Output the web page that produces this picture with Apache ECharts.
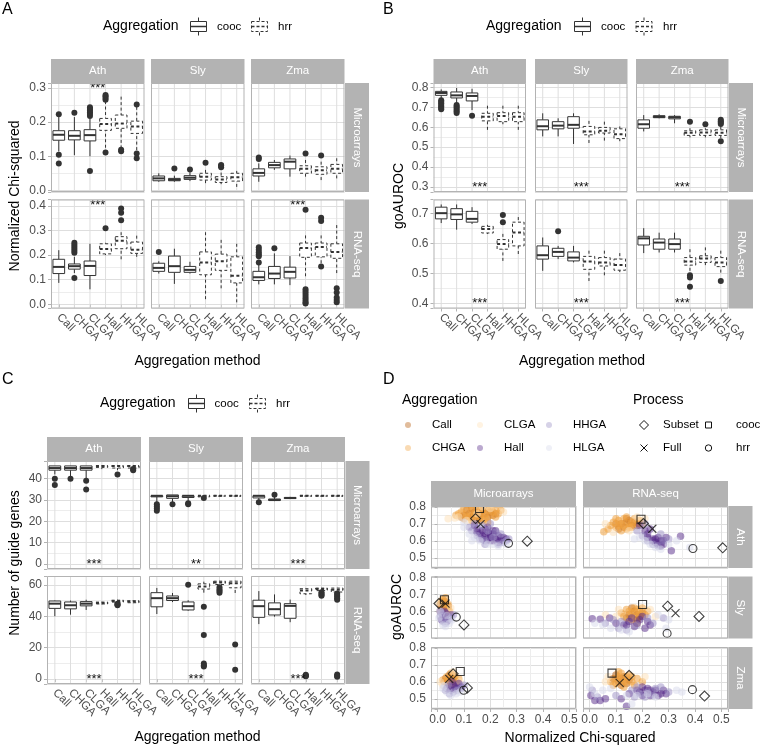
<!DOCTYPE html>
<html><head><meta charset="utf-8">
<script src="https://cdn.jsdelivr.net/npm/echarts@6/dist/echarts.min.js"></script>
<style>html,body{margin:0;padding:0;background:#fff}#c{width:760px;height:745px}</style>
</head><body><div id="c"></div><script>
// ---------------- DATA ----------------
const categories = ['Call','CHGA','CLGA','Hall','HHGA','HLGA'];
const species = ['Ath','Sly','Zma'];
const platforms = ['Microarrays','RNA-seq'];

// boxes: [lowerWhisker, q1, median, q3, upperWhisker] per category; outliers: [categoryIndex, value]
const chiMicroBoxes = [
  [[0.114,0.147,0.163,0.175,0.215],[0.103,0.148,0.160,0.175,0.215],[0.100,0.145,0.162,0.178,0.210],[0.125,0.176,0.195,0.211,0.262],[0.123,0.182,0.196,0.221,0.275],[0.118,0.167,0.187,0.203,0.245]],
  [[0.025,0.028,0.035,0.042,0.050],[0.025,0.028,0.031,0.035,0.043],[0.027,0.032,0.037,0.043,0.053],[0.021,0.030,0.040,0.050,0.060],[0.018,0.023,0.032,0.040,0.052],[0.010,0.027,0.038,0.050,0.057]],
  [[0.025,0.042,0.051,0.063,0.079],[0.060,0.066,0.074,0.082,0.089],[0.040,0.063,0.084,0.092,0.102],[0.040,0.050,0.063,0.072,0.089],[0.030,0.047,0.059,0.069,0.084],[0.035,0.050,0.063,0.076,0.094]]
];
const chiMicroOut = [
  [[0,0.223],[0,0.104],[0,0.079],[1,0.228],[2,0.218],[2,0.224],[2,0.229],[2,0.234],[2,0.239],[2,0.244],[2,0.057],[3,0.266],[3,0.271],[3,0.276],[3,0.280],[3,0.111],[4,0.115],[4,0.119],[5,0.252],[5,0.108],[5,0.094]],
  [[1,0.064],[2,0.061],[3,0.081],[4,0.068],[4,0.072],[4,0.074]],
  [[0,0.092],[0,0.096],[3,0.108],[4,0.102]]
];
const chiRnaBoxes = [
  [[0.087,0.125,0.152,0.183,0.220],[0.127,0.143,0.155,0.164,0.193],[0.061,0.117,0.156,0.176,0.246],[0.200,0.205,0.225,0.246,0.250],[0.183,0.226,0.258,0.275,0.293],[0.193,0.207,0.222,0.253,0.279]],
  [[0.125,0.134,0.148,0.167,0.175],[0.083,0.130,0.155,0.196,0.226],[0.125,0.130,0.140,0.154,0.173],[0.021,0.120,0.170,0.213,0.293],[0.065,0.138,0.175,0.204,0.262],[0.008,0.087,0.116,0.193,0.246]],
  [[0.081,0.097,0.110,0.134,0.160],[0.081,0.105,0.125,0.154,0.207],[0.078,0.107,0.132,0.151,0.196],[0.114,0.191,0.229,0.249,0.280],[0.167,0.193,0.233,0.249,0.280],[0.127,0.187,0.213,0.246,0.322]]
];
const chiRnaOut = [
  [[1,0.107],[1,0.210],[1,0.218],[1,0.226],[1,0.234],[1,0.242],[1,0.250],[3,0.309],[4,0.342],[4,0.372],[4,0.389]],
  [[0,0.213]],
  [[0,0.170],[0,0.195],[0,0.203],[0,0.212],[0,0.222],[0,0.232],[1,0.228],[3,0.384],[3,0.061],[3,0.052],[3,0.043],[3,0.034],[3,0.025],[3,0.016],[3,0.007],[3,0.003],[4,0.352],[4,0.339],[4,0.154],[5,0.065],[5,0.048],[5,0.028],[5,0.018],[5,0.008]]
];
const chiMicroStars = ['***','',''];
const chiRnaStars = ['***','','***'];

const aurocMicroBoxes = [
  [[0.741,0.760,0.772,0.780,0.790],[0.720,0.747,0.760,0.777,0.797],[0.686,0.732,0.757,0.772,0.793],[0.587,0.632,0.653,0.670,0.708],[0.615,0.628,0.656,0.673,0.708],[0.587,0.628,0.653,0.673,0.708]],
  [[0.554,0.587,0.605,0.637,0.670],[0.554,0.592,0.608,0.628,0.645],[0.516,0.595,0.612,0.653,0.670],[0.521,0.562,0.578,0.604,0.632],[0.533,0.571,0.583,0.599,0.628],[0.530,0.543,0.565,0.592,0.604]],
  [[0.579,0.595,0.615,0.637,0.661],[0.645,0.648,0.652,0.658,0.665],[0.620,0.642,0.650,0.655,0.661],[0.549,0.559,0.572,0.582,0.595],[0.549,0.559,0.574,0.587,0.595],[0.546,0.559,0.572,0.587,0.604]]
];
const aurocMicroOut = [
  [[0,0.735],[0,0.728],[0,0.720],[0,0.712],[0,0.704],[0,0.697],[0,0.690],[1,0.712],[1,0.704],[1,0.696],[1,0.688],[1,0.680],[1,0.672],[2,0.658]],
  [],
  [[3,0.628],[4,0.615],[5,0.637],[5,0.630],[5,0.623],[5,0.616],[5,0.530]]
];
const aurocRnaBoxes = [
  [[0.668,0.682,0.701,0.721,0.730],[0.646,0.680,0.697,0.716,0.730],[0.665,0.671,0.682,0.707,0.721],[0.632,0.635,0.648,0.657,0.662],[0.542,0.581,0.598,0.613,0.632],[0.565,0.592,0.637,0.671,0.688]],
  [[0.509,0.548,0.561,0.592,0.620],[0.548,0.557,0.572,0.584,0.592],[0.537,0.542,0.553,0.572,0.592],[0.475,0.514,0.540,0.557,0.576],[0.494,0.525,0.537,0.553,0.576],[0.505,0.511,0.528,0.548,0.568]],
  [[0.568,0.595,0.617,0.624,0.651],[0.570,0.581,0.603,0.615,0.636],[0.570,0.581,0.598,0.615,0.636],[0.509,0.528,0.540,0.553,0.581],[0.528,0.537,0.550,0.559,0.587],[0.503,0.523,0.537,0.553,0.576]]
];
const aurocRnaOut = [
  [[4,0.695],[4,0.671]],
  [[1,0.641]],
  [[3,0.494],[3,0.487],[3,0.456],[5,0.475]]
];
const aurocMicroStars = ['***','***','***'];
const aurocRnaStars = ['***','***','***'];

const guideMicroBoxes = [
  [[42,44,45,46,46],[41,44,45,46,46],[40,44,45,46,46],[44.5,45.3,46,46,46],[44,45,46,46,46],[44.5,45,46,46,46]],
  [[28,31.5,32,32,32],[28.8,30.8,31.8,32.4,32.4],[28.8,31.2,32,32,32],[30.8,31.5,32,32,32],[32,32,32,32,32],[32,32,32,32,32]],
  [[29.5,31,32,32,32],[29.5,29.8,30,30.5,32],[30.5,30.7,31,31.2,31.5],[32,32,32,32,32],[32,32,32,32,32],[32,32,32,32,32]]
];
const guideMicroOut = [
  [[0,40],[0,37],[1,40],[2,39],[2,35],[4,42],[5,44],[5,44.5]],
  [[0,28],[0,27],[0,26],[0,25],[1,28],[2,28.5],[2,28],[3,31]],
  [[0,29],[1,32.5]]
];
const guideRnaBoxes = [
  [[40,45,48,49.7,50],[41,44.7,47,49.1,50],[44,46.6,48,49.3,50.5],[47.5,47.8,48.5,49,49.2],[48.5,49,49.7,50.2,50.5],[48.3,48.6,49.3,49.8,50.2]],
  [[41.4,46,51.5,55,58],[49,50,51.5,52.9,54.8],[43.5,44,46.4,49.1,50.2],[55,57.3,58.9,60.6,62],[58,60.2,61.5,62.3,62.5],[54.8,58.1,61,62.3,62.5]],
  [[35,39.3,46.4,50.2,56],[39.7,40.8,44.5,48.5,53.9],[36.2,38.7,46.6,48,50.6],[53.5,54.3,56.4,57.5,58],[56,56.3,57.3,57.9,58],[54.5,55.4,56.8,57.9,58]]
];
const guideRnaOut = [
  [[4,48],[4,47.5],[4,47]],
  [[2,60],[3,46],[3,28],[3,10],[3,8.8],[3,8],[4,58.5],[4,57],[4,56],[4,55],[5,22],[5,6]],
  [[3,2.8],[3,2.2],[3,1.8],[4,55.3],[4,54.5],[4,53.5],[4,53],[5,54.5],[5,53.5],[5,52.5],[5,51.5],[5,50.5],[5,3],[5,2],[5,1.5]]
];
const guideMicroStars = ['***','**','***'];
const guideRnaStars = ['***','***','***'];

// Panel D: facets in order Ath-Micro, Ath-RNA, Sly-Micro, Sly-RNA, Zma-Micro, Zma-RNA ; points [chi, auroc]
const dCall = [
  [[0.12,0.76],[0.14,0.77],[0.16,0.75],[0.18,0.76],[0.13,0.74],[0.10,0.75],[0.17,0.78],[0.2,0.77],[0.15,0.72],[0.11,0.78],[0.19,0.74],[0.22,0.76],[0.13,0.79],[0.21,0.75],[0.09,0.74],[0.16,0.73]],
  [[0.12,0.70],[0.14,0.71],[0.16,0.69],[0.13,0.68],[0.15,0.72],[0.10,0.70],[0.17,0.71],[0.18,0.69],[0.11,0.67],[0.14,0.73]],
  [[0.01,0.64],[0.02,0.65],[0.03,0.63],[0.015,0.62],[0.025,0.66],[0.035,0.61],[0.04,0.63]],
  [[0.15,0.58],[0.17,0.6],[0.19,0.57],[0.14,0.56],[0.18,0.55],[0.16,0.62],[0.2,0.59],[0.18,0.58]],
  [[0.03,0.62],[0.04,0.6],[0.05,0.63],[0.06,0.61],[0.045,0.64],[0.025,0.6],[0.055,0.62]],
  [[0.09,0.62],[0.11,0.6],[0.13,0.63],[0.15,0.61],[0.12,0.58],[0.1,0.64],[0.14,0.59],[0.12,0.62]]
];
const dCHGA = [
  [[0.09,0.77],[0.11,0.76],[0.13,0.78],[0.15,0.79],[0.17,0.77],[0.19,0.78],[0.21,0.77],[0.23,0.76],[0.12,0.74],[0.14,0.75],[0.16,0.74],[0.18,0.73],[0.20,0.75],[0.07,0.75],[0.10,0.73],[0.24,0.78],[0.22,0.74],[0.13,0.72],[0.08,0.76],[0.1,0.79],[0.12,0.8],[0.14,0.76],[0.16,0.78],[0.18,0.75],[0.2,0.79],[0.22,0.78],[0.11,0.745],[0.17,0.72],[0.19,0.71],[0.15,0.74]],
  [[0.08,0.69],[0.09,0.71],[0.11,0.72],[0.13,0.73],[0.15,0.70],[0.17,0.73],[0.19,0.72],[0.14,0.67],[0.12,0.66],[0.16,0.68],[0.054,0.653],[0.07,0.67],[0.2,0.7],[0.1,0.68],[0.1,0.73],[0.12,0.7],[0.14,0.74],[0.16,0.71],[0.18,0.7],[0.13,0.69],[0.11,0.69],[0.15,0.68]],
  [[0.02,0.67],[0.03,0.65],[0.04,0.64],[0.025,0.62],[0.015,0.66],[0.045,0.6],[0.035,0.63],[0.03,0.68],[0.02,0.63],[0.04,0.61]],
  [[0.13,0.57],[0.15,0.6],[0.17,0.62],[0.19,0.6],[0.21,0.58],[0.16,0.55],[0.12,0.59],[0.22,0.6],[0.18,0.53],[0.14,0.61],[0.2,0.62],[0.16,0.59],[0.18,0.61],[0.17,0.57],[0.19,0.58]],
  [[0.02,0.61],[0.035,0.63],[0.05,0.65],[0.065,0.63],[0.07,0.6],[0.055,0.59],[0.04,0.58],[0.08,0.62],[0.03,0.6],[0.045,0.62],[0.06,0.64]],
  [[0.08,0.6],[0.1,0.62],[0.12,0.65],[0.14,0.63],[0.16,0.6],[0.18,0.62],[0.17,0.58],[0.09,0.58],[0.2,0.6],[0.13,0.57],[0.11,0.66],[0.15,0.64],[0.1,0.59],[0.12,0.61],[0.14,0.6],[0.16,0.63],[0.11,0.63],[0.13,0.6]]
];
const dCLGA = [
  [[0.04,0.73],[0.065,0.735],[0.08,0.74],[0.17,0.8],[0.2,0.79],[0.25,0.77],[0.11,0.72],[0.15,0.76]],
  [[0.06,0.7],[0.18,0.74],[0.21,0.73],[0.09,0.65],[0.15,0.66]],
  [[0.005,0.65],[0.05,0.62],[0.01,0.6],[0.04,0.59]],
  [[0.06,0.58],[0.1,0.57],[0.23,0.61],[0.25,0.57],[0.11,0.61]],
  [[0.01,0.6],[0.085,0.6],[0.06,0.66],[0.02,0.58]],
  [[0.07,0.63],[0.21,0.63],[0.19,0.57],[0.06,0.6]]
];
const dHall = [
  [[0.15,0.67],[0.17,0.66],[0.19,0.65],[0.21,0.64],[0.2,0.62],[0.22,0.61],[0.18,0.63],[0.16,0.64],[0.23,0.63],[0.24,0.60],[0.19,0.68],[0.21,0.66],[0.17,0.61],[0.25,0.62],[0.14,0.69],[0.2,0.6],[0.18,0.67],[0.22,0.66],[0.2,0.64],[0.24,0.62],[0.26,0.61],[0.17,0.63],[0.19,0.61],[0.21,0.6],[0.15,0.65],[0.23,0.59]],
  [[0.19,0.69],[0.21,0.66],[0.22,0.64],[0.24,0.61],[0.25,0.59],[0.27,0.6],[0.28,0.58],[0.26,0.62],[0.29,0.62],[0.31,0.541],[0.345,0.627],[0.23,0.67],[0.24,0.6],[0.26,0.58],[0.28,0.6],[0.25,0.61],[0.27,0.57],[0.22,0.62]],
  [[0.02,0.58],[0.03,0.56],[0.04,0.57],[0.015,0.55],[0.025,0.6],[0.035,0.54],[0.05,0.58],[0.01,0.6],[0.03,0.59]],
  [[0.01,0.556],[0.04,0.554],[0.076,0.56],[0.1,0.53],[0.13,0.52],[0.15,0.54],[0.17,0.51],[0.19,0.55],[0.21,0.5],[0.23,0.52],[0.16,0.56],[0.2,0.57],[0.18,0.53],[0.22,0.54],[0.14,0.52]],
  [[0.04,0.57],[0.05,0.55],[0.06,0.58],[0.07,0.56],[0.08,0.59],[0.055,0.6],[0.09,0.57],[0.035,0.56],[0.065,0.57]],
  [[0.005,0.52],[0.02,0.49],[0.04,0.49],[0.06,0.5],[0.15,0.53],[0.18,0.55],[0.2,0.57],[0.22,0.56],[0.24,0.54],[0.26,0.52],[0.28,0.55],[0.29,0.53],[0.23,0.52],[0.12,0.5],[0.14,0.456],[0.19,0.54],[0.21,0.55],[0.25,0.55],[0.27,0.53],[0.23,0.55],[0.2,0.52]]
];
const dHHGA = [
  [[0.13,0.66],[0.15,0.63],[0.18,0.6],[0.22,0.65],[0.24,0.64],[0.26,0.6],[0.17,0.69],[0.2,0.7],[0.12,0.68],[0.16,0.61],[0.23,0.58],[0.25,0.59],[0.14,0.7],[0.19,0.66],[0.21,0.62],[0.27,0.61],[0.18,0.58]],
  [[0.18,0.66],[0.2,0.63],[0.22,0.6],[0.24,0.58],[0.26,0.57],[0.28,0.6],[0.3,0.61],[0.27,0.64],[0.21,0.7]],
  [[0.01,0.57],[0.02,0.54],[0.03,0.53],[0.04,0.55],[0.05,0.56],[0.015,0.59],[0.06,0.58]],
  [[0.06,0.53],[0.09,0.55],[0.12,0.54],[0.14,0.49],[0.18,0.52],[0.22,0.56],[0.24,0.53],[0.28,0.56],[0.11,0.5]],
  [[0.03,0.55],[0.045,0.53],[0.06,0.54],[0.075,0.55],[0.09,0.56],[0.04,0.58],[0.1,0.58]],
  [[0.01,0.55],[0.03,0.51],[0.16,0.55],[0.19,0.53],[0.21,0.51],[0.25,0.56],[0.27,0.57],[0.3,0.54],[0.17,0.51],[0.1,0.52],[0.18,0.57],[0.22,0.54],[0.24,0.52]]
];
const dHLGA = [
  [[0.10,0.68],[0.12,0.64],[0.14,0.62],[0.16,0.6],[0.19,0.58],[0.21,0.58],[0.23,0.57],[0.26,0.58],[0.13,0.6],[0.1,0.71]],
  [[0.17,0.61],[0.19,0.62],[0.21,0.6],[0.23,0.58],[0.25,0.56],[0.3,0.58],[0.38,0.56],[0.33,0.6],[0.27,0.55]],
  [[0.005,0.56],[0.02,0.52],[0.03,0.51],[0.045,0.53],[0.01,0.6],[0.035,0.575],[0.055,0.55]],
  [[0.02,0.53],[0.05,0.52],[0.08,0.5],[0.12,0.49],[0.26,0.58],[0.29,0.5],[0.3,0.55],[0.15,0.48]],
  [[0.02,0.56],[0.035,0.54],[0.05,0.52],[0.07,0.53],[0.085,0.54],[0.025,0.575]],
  [[0.0,0.57],[0.02,0.53],[0.05,0.55],[0.14,0.52],[0.18,0.52],[0.22,0.53],[0.25,0.51],[0.33,0.55],[0.35,0.54],[0.08,0.56],[0.16,0.47]]
];
const dSubset = [[[0.144,0.731],[0.34,0.598]],[[0.204,0.702],[0.505,0.559]],[[0.005,0.646],[0.10,0.52]],[[0.296,0.63],[0.415,0.57]],[[0.059,0.647],[0.113,0.564]],[[0.15,0.638],[0.436,0.516]]];
const dFull = [[[0.163,0.698]],[[0.238,0.671]],[[0.03,0.645]],[[0.326,0.59]],[[0.044,0.618]],[[0.114,0.594]]];
const dCooc = [[[0.159,0.79]],[[0.195,0.727]],[[0.026,0.668]],[[0.201,0.64]],[[0.086,0.661]],[[0.085,0.651]]];
const dHrr = [[[0.269,0.585]],[[0.392,0.555]],[[0.071,0.566]],[[0.294,0.47]],[[0.099,0.55]],[[0.39,0.554]]];

// ---------------- STYLE / LAYOUT ----------------
const FONT = '"Liberation Sans", Arial, sans-serif';
const GRID_MAJOR = '#DEDEDE', GRID_MINOR = '#EDEDED', BORDER = '#B3B3B3', STRIP = '#B3B3B3', AXIS_TXT = '#4D4D4D', BOXC = '#333333';
const aggColors = {Call:'#B35806', CHGA:'#F1A340', CLGA:'#FEE0B6', Hall:'#542788', HHGA:'#998EC3', HLGA:'#D8DAEB'};
const aggOpacity = {Call:0.5, CHGA:0.55, CLGA:0.5, Hall:0.5, HHGA:0.5, HLGA:0.5};
const option = {animation:false, backgroundColor:'#fff', grid:[], xAxis:[], yAxis:[], series:[], graphic:[]};
const G = option.graphic;

function txt(x, y, s, o) {
  G.push(Object.assign({type:'text', x, y, z:50, silent:true,
    style: Object.assign({text:s, fill:'#000', fontSize:14, fontFamily:FONT, align:'left', verticalAlign:'middle'}, (o && o.style) || {})},
    o && o.rotation != null ? {rotation:o.rotation} : {}));
}
function rect(x, y, w, h, style, z) {
  G.push({type:'rect', z: z || 40, silent:true, shape:{x, y, width:w, height:h}, style});
}
function onStep(v, step){ const r = v/step; return Math.abs(r - Math.round(r)) < 1e-6; }
function fmt1(v){ if (Math.abs(v) < 1e-9) v = 0; return v.toFixed(1); }
function fmt0(v){ if (Math.abs(v) < 1e-9) v = 0; return String(Math.round(v)); }

function yAxisCfg(gi, min, max, step, show, fmt) {
  return {gridIndex:gi, type:'value', min, max, minInterval:step, maxInterval:step, splitNumber:5,
    axisLine:{show:false},
    axisTick:{show:show, length:3, lineStyle:{color:BORDER, width:1}},
    axisLabel:{show:show, margin:5, fontSize:12, color:AXIS_TXT, fontFamily:FONT, formatter: v => onStep(v, step) ? fmt(v) : ''},
    splitLine:{show:true, lineStyle:{color:GRID_MAJOR, width:1}},
    minorTick:{show:false, splitNumber:2},
    minorSplitLine:{show:true, lineStyle:{color:GRID_MINOR, width:1}}};
}

function renderBox(params, api) {
  const k = api.value(0);
  const vals = [1,2,3,4,5].map(i => api.value(i));
  const dashed = api.value(6) === 1;
  const bw = api.size([1, 0])[0] * 0.75;
  const c = vals.map(v => api.coord([k, v]));
  const x = c[0][0];
  const cs = params.coordSys;
  const ls = {stroke:BOXC, lineWidth:1, fill:null};
  if (dashed) ls.lineDash = [3, 2.5];
  const med = {stroke:BOXC, lineWidth:2};
  if (dashed) med.lineDash = [3, 2.5];
  return {type:'group', children:[
    {type:'line', shape:{x1:x, y1:cs.y, x2:x, y2:cs.y + cs.height}, style:{stroke:GRID_MAJOR, lineWidth:1}},
    {type:'line', shape:{x1:x, y1:c[0][1], x2:x, y2:c[1][1]}, style:ls},
    {type:'line', shape:{x1:x, y1:c[4][1], x2:x, y2:c[3][1]}, style:ls},
    {type:'rect', shape:{x:x - bw/2, y:c[3][1], width:bw, height:Math.max(c[1][1] - c[3][1], 0.3)}, style:Object.assign({}, ls, {fill:'#fff'})},
    {type:'line', shape:{x1:x - bw/2, y1:c[2][1], x2:x + bw/2, y2:c[2][1]}, style:med}
  ]};
}
const starText = {};
function renderStars(params, api) {
  const y = api.value(1);
  const a = api.coord([2, y]), b = api.coord([3, y]);
  return {type:'text', x:(a[0] + b[0]) / 2, y:a[1], style:{text: starText[params.seriesId], fill:'#111', fontSize:13, fontFamily:FONT, align:'center', verticalAlign:'middle'}};
}

function boxLegend(cy, pos) {
  txt(pos[0], cy, 'Aggregation', {style:{fontSize:14}});
  [[pos[1], false, 'cooc', pos[2]], [pos[3], true, 'hrr', pos[4]]].forEach(([ix, dashed, lab, lx]) => {
    const st = {stroke:BOXC, lineWidth:1, fill:'#fff'};
    if (dashed) st.lineDash = [3, 2];
    const cx = ix + 9;
    G.push({type:'line', z:50, silent:true, shape:{x1:cx, y1:cy - 9, x2:cx, y2:cy + 9}, style:st});
    G.push({type:'rect', z:51, silent:true, shape:{x:ix + 1, y:cy - 5, width:16, height:10}, style:st});
    G.push({type:'line', z:52, silent:true, shape:{x1:ix + 1, y1:cy, x2:ix + 17, y2:cy}, style:Object.assign({}, st, {lineWidth:1.5})});
    txt(lx, cy, lab, {style:{fontSize:11.5}});
  });
}

function addBoxPanel(p) {
  p.cols.forEach((cx, ci) => {
    rect(cx, p.stripTop, p.colW, p.rows[0].top - p.stripTop, {fill:STRIP});
    txt(cx + p.colW / 2, (p.stripTop + p.rows[0].top) / 2, species[ci], {style:{fill:'#fff', fontSize:11.5, align:'center'}});
  });
  p.rows.forEach((row, ri) => {
    const isBottom = ri === p.rows.length - 1;
    const rx = p.cols[2] + p.colW;
    rect(rx + 0.5, row.top, 24, row.h, {fill:STRIP});
    txt(rx + 12.5, row.top + row.h / 2, platforms[ri], {rotation:-Math.PI / 2, style:{fill:'#fff', fontSize:11.5, align:'center'}});
    species.forEach((sp, ci) => {
      const gi = option.grid.length;
      option.grid.push({left:p.cols[ci], top:row.top, width:p.colW, height:row.h, show:false});
      rect(p.cols[ci] + 0.5, row.top + 0.5, p.colW - 1, row.h - 1, {fill:null, stroke:BORDER, lineWidth:1}, 45);
      option.xAxis.push({gridIndex:gi, type:'category', data:categories, boundaryGap:true,
        axisLine:{show:false},
        axisTick:{show:isBottom, alignWithLabel:true, length:3, lineStyle:{color:BORDER}},
        axisLabel:{show:isBottom, interval:0, rotate:-45, margin:7, fontSize:11.5, color:AXIS_TXT, fontFamily:FONT},
        splitLine:{show:false}});
      option.yAxis.push(yAxisCfg(gi, row.min, row.max, row.step, ci === 0, row.fmt));
      option.series.push({type:'custom', coordinateSystem:'cartesian2d', xAxisIndex:gi, yAxisIndex:gi, z:2,
        renderItem:renderBox, encode:{x:0, y:[1,2,3,4,5]},
        data: row.boxes[ci].map((b, k) => [k].concat(b, [k >= 3 ? 1 : 0]))});
      option.series.push({type:'scatter', xAxisIndex:gi, yAxisIndex:gi, z:3, symbol:'circle', symbolSize:6,
        itemStyle:{color:BOXC, opacity:1}, data: row.outs[ci]});
      if (row.stars[ci]) {
        const id = 'stars_' + gi;
        starText[id] = row.stars[ci];
        option.series.push({id, type:'custom', coordinateSystem:'cartesian2d', xAxisIndex:gi, yAxisIndex:gi, z:4,
          renderItem:renderStars, data:[[2, row.starY]]});
      }
    });
  });
}

// ---------------- PANEL A ----------------
txt(2, 10, 'A', {style:{fontSize:16}});
boxLegend(26.5, [103, 189.5, 217, 250.5, 278]);
addBoxPanel({cols:[51, 151, 251], colW:93.5, stripTop:59, rows:[
  {top:83, h:109, min:-0.005, max:0.315, step:0.1, fmt:fmt1, boxes:chiMicroBoxes, outs:chiMicroOut, stars:chiMicroStars, starY:0.3},
  {top:199.5, h:109, min:-0.017, max:0.426, step:0.1, fmt:fmt1, boxes:chiRnaBoxes, outs:chiRnaOut, stars:chiRnaStars, starY:0.4}
]});
txt(15, 196, 'Normalized Chi-squared', {rotation:Math.PI / 2, style:{align:'center'}});
txt(197.5, 361, 'Aggregation method', {style:{align:'center'}});

// ---------------- PANEL B ----------------
txt(383, 10, 'B', {style:{fontSize:16}});
boxLegend(26.5, [486, 573.5, 601, 635, 663]);
addBoxPanel({cols:[433.5, 535, 636], colW:92.5, stripTop:59, rows:[
  {top:83, h:109, min:0.275, max:0.822, step:0.1, fmt:fmt1, boxes:aurocMicroBoxes, outs:aurocMicroOut, stars:aurocMicroStars, starY:0.3},
  {top:199.5, h:109, min:0.3835, max:0.7465, step:0.1, fmt:fmt1, boxes:aurocRnaBoxes, outs:aurocRnaOut, stars:aurocRnaStars, starY:0.4}
]});
txt(399, 196, 'goAUROC', {rotation:Math.PI / 2, style:{align:'center'}});
txt(582, 361, 'Aggregation method', {style:{align:'center'}});

// ---------------- PANEL C ----------------
txt(2, 380, 'C', {style:{fontSize:16}});
boxLegend(403.5, [100, 187.5, 214.5, 248.5, 276]);
addBoxPanel({cols:[47, 149, 251], colW:94, stripTop:437, rows:[
  {top:461, h:108, min:-2.3, max:48.3, step:10, fmt:fmt0, boxes:guideMicroBoxes, outs:guideMicroOut, stars:guideMicroStars, starY:0},
  {top:576, h:108, min:-3.1, max:65.6, step:20, fmt:fmt0, boxes:guideRnaBoxes, outs:guideRnaOut, stars:guideRnaStars, starY:0}
]});
txt(15, 563, 'Number of guide genes', {rotation:Math.PI / 2, style:{align:'center'}});
txt(197.5, 737, 'Aggregation method', {style:{align:'center'}});

// ---------------- PANEL D ----------------
txt(383, 380, 'D', {style:{fontSize:16}});
txt(402, 400, 'Aggregation', {style:{fontSize:14}});
txt(633, 400, 'Process', {style:{fontSize:14}});
const dGroups = [['Call', dCall], ['CHGA', dCHGA], ['CLGA', dCLGA], ['Hall', dHall], ['HHGA', dHHGA], ['HLGA', dHLGA]];
const legPos = {Call:[408,425], CLGA:[480,425], HHGA:[549,425], CHGA:[408,448], Hall:[480,448], HLGA:[549,448]};
Object.keys(legPos).forEach(k => {
  const [lx, ly] = legPos[k];
  G.push({type:'circle', z:50, silent:true, shape:{cx:lx, cy:ly, r:3}, style:{fill:aggColors[k], opacity:0.4}});
  txt(lx + 24, ly, k, {style:{fontSize:11.5}});
});
G.push({type:'polygon', z:50, silent:true, shape:{points:[[644,420.5],[648.5,425],[644,429.5],[639.5,425]]}, style:{fill:null, stroke:'#111', lineWidth:1}});
txt(663, 425, 'Subset', {style:{fontSize:11.5}});
G.push({type:'polyline', z:50, silent:true, shape:{points:[[640.5,444.5],[647.5,451.5]]}, style:{stroke:'#111', lineWidth:1}});
G.push({type:'polyline', z:50, silent:true, shape:{points:[[647.5,444.5],[640.5,451.5]]}, style:{stroke:'#111', lineWidth:1}});
txt(663, 448, 'Full', {style:{fontSize:11.5}});
G.push({type:'rect', z:50, silent:true, shape:{x:705.5, y:422, width:6, height:6}, style:{fill:null, stroke:'#111', lineWidth:1}});
txt(736, 425, 'cooc', {style:{fontSize:11.5}});
G.push({type:'circle', z:50, silent:true, shape:{cx:708.5, cy:448, r:3.2}, style:{fill:null, stroke:'#111', lineWidth:1}});
txt(736, 448, 'hrr', {style:{fontSize:11.5}});

const dCols = [431, 583], dColW = 145, dRows = [506, 576.5, 647], dRowH = 62;
dCols.forEach((cx, ci) => {
  rect(cx, 481, dColW, 25, {fill:STRIP});
  txt(cx + dColW / 2, 493.5, platforms[ci], {style:{fill:'#fff', fontSize:11.5, align:'center'}});
});
dRows.forEach((ry, ri) => {
  rect(dCols[1] + dColW + 0.5, ry, 24, dRowH, {fill:STRIP});
  txt(dCols[1] + dColW + 12.5, ry + dRowH / 2, species[ri], {rotation:-Math.PI / 2, style:{fill:'#fff', fontSize:11.5, align:'center'}});
  dCols.forEach((cx, ci) => {
    const gi = option.grid.length;
    const fi = ri * 2 + ci;
    option.grid.push({left:cx, top:ry, width:dColW, height:dRowH, show:false});
    rect(cx + 0.5, ry + 0.5, dColW - 1, dRowH - 1, {fill:null, stroke:BORDER, lineWidth:1}, 45);
    const xa = yAxisCfg(gi, -0.025, 0.525, 0.1, ri === 2, fmt1);
    xa.axisLabel.margin = 5;
    option.xAxis.push(xa);
    option.yAxis.push(yAxisCfg(gi, 0.44, 0.805, 0.1, ci === 0, fmt1));
    dGroups.forEach(([name, arr]) => {
      option.series.push({type:'scatter', name, xAxisIndex:gi, yAxisIndex:gi, z:2, symbol:'circle', symbolSize:7.5,
        itemStyle:{color:aggColors[name], opacity:aggOpacity[name]}, data:arr[fi]});
    });
    const mk = {color:'rgba(0,0,0,0)', borderColor:'#111', borderWidth:1.1};
    option.series.push({type:'scatter', xAxisIndex:gi, yAxisIndex:gi, z:5, symbol:'diamond', symbolSize:10, itemStyle:mk, data:dSubset[fi]});
    option.series.push({type:'scatter', xAxisIndex:gi, yAxisIndex:gi, z:5, symbol:'path://M0,0L10,10M10,0L0,10', symbolSize:8, itemStyle:mk, data:dFull[fi]});
    option.series.push({type:'scatter', xAxisIndex:gi, yAxisIndex:gi, z:5, symbol:'rect', symbolSize:8, itemStyle:mk, data:dCooc[fi]});
    option.series.push({type:'scatter', xAxisIndex:gi, yAxisIndex:gi, z:5, symbol:'circle', symbolSize:8, itemStyle:mk, data:dHrr[fi]});
  });
});
txt(397, 607, 'goAUROC', {rotation:Math.PI / 2, style:{align:'center'}});
txt(580, 738, 'Normalized Chi-squared', {style:{align:'center'}});

const chart = echarts.init(document.getElementById('c'), null, {renderer:'canvas'});
chart.setOption(option);
</script></body></html>
